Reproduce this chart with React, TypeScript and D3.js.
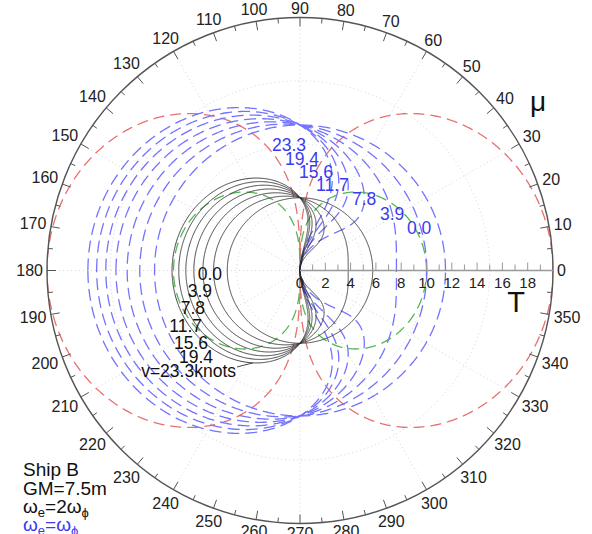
import React from 'react';
import * as d3 from 'd3';

// Physical constants
const G = 9.81; // m/s^2
const KNOT = 0.514444; // m/s per knot

// Ship B, GM = 7.5 m: natural roll period [s]
const rollPeriod = 11.5;

// Ship speeds [knots] and the printed labels for each curve
const shipSpeeds = [0, 3.9, 7.8, 11.7, 15.6, 19.4, 23.3];
const speedLabels = ['0.0', '3.9', '7.8', '11.7', '15.6', '19.4', '23.3'];

// Reference wave-length curves: wave period at mu = 0 [s]
const lengthCurvePeriods = [10, 20];

// Axis ticks
const headingMajor = d3.range(0, 360, 10);
const headingMinor = d3.range(0, 360, 5);
const periodMinor = d3.range(1, 20, 1);
const periodLabels = d3.range(0, 20, 2);
const gridPeriods = [5, 10, 15];
const gridAngles = d3.range(0, 360, 30);

// Label layout (pixels)
const blackLabelPos = [
  [222, 273], [212, 290], [205, 307], [202, 325], [208, 342], [213, 356], [236, 370],
];
const blueLabelPos = [
  [407, 227], [380, 213], [352, 198], [316, 184], [299, 171], [285, 158], [272, 144],
];

const W = 592;
const H = 534;
const CX = 300;
const CY = 270.5;
const R = 253;

const rScale = d3.scaleLinear().domain([0, 20]).range([0, R]);
const rad = (deg: number) => (deg * Math.PI) / 180;

type Pt = [number, number]; // [mu (rad), T (s)]

// Wave periods T satisfying  omega - omega^2 V cos(mu) / g = omega_e
// written with s = sqrt(1 - k cos mu), k = 4 omega_e V / g:  T = (Te/2)(1 + s).
// Below k = 1 only the long-period root is traced; above it the curve folds
// back to the origin through the short-period root.
function resonanceLoop(Te: number, vKn: number): Pt[] {
  const we = (2 * Math.PI) / Te;
  const k = (4 * we * vKn * KNOT) / G;
  const half = Te / 2;
  if (k < 1) {
    return d3.range(0, 360.01, 0.5).map((d) => {
      const m = rad(d);
      return [m, half * (1 + Math.sqrt(1 - k * Math.cos(m)))] as Pt;
    });
  }
  const upper: Pt[] = [];
  for (let d = 180; d > 90; d -= 0.5) {
    const m = rad(d);
    upper.push([m, half * (1 + Math.sqrt(1 - k * Math.cos(m)))]);
  }
  const n = 600;
  for (let i = 0; i <= n; i++) {
    const s = 1 - (2 * i) / n;
    const c = Math.min(1, (1 - s * s) / k);
    upper.push([Math.acos(c), half * (1 + s)]);
  }
  const lower: Pt[] = upper
    .slice()
    .reverse()
    .map(([m, t]) => [-m, t] as Pt);
  return upper.concat(lower);
}

function resonancePeriodAt(Te: number, vKn: number, muDeg: number): number {
  const we = (2 * Math.PI) / Te;
  const k = (4 * we * vKn * KNOT) / G;
  return (Te / 2) * (1 + Math.sqrt(1 - k * Math.cos(rad(muDeg))));
}

// Wave period whose length projected on the ship axis is fixed: T = T0 sqrt|cos mu|
function lengthCurve(T0: number): Pt[] {
  return d3.range(0, 360.01, 0.5).map((d) => {
    const m = rad(d);
    return [m, T0 * Math.sqrt(Math.abs(Math.cos(m)))] as Pt;
  });
}

const radial = d3
  .lineRadial<Pt>()
  .angle((d) => Math.PI / 2 - d[0])
  .radius((d) => rScale(d[1]));

const px = (muDeg: number, r: number) => CX + r * Math.cos(rad(muDeg));
const py = (muDeg: number, r: number) => CY - r * Math.sin(rad(muDeg));

const FONT = "'Liberation Sans', Arial, Helvetica, sans-serif";
const BLUE_LINE = '#7373ff';
const BLUE_TEXT = '#3a3af0';
const RED_LINE = '#e87070';
const GREEN_LINE = '#55b855';

export default function App() {
  const blackT = rollPeriod / 2; // omega_e = 2 omega_phi
  const blueT = rollPeriod; // omega_e = omega_phi

  const leaderMu = 243;
  const leaderT = resonancePeriodAt(blackT, shipSpeeds[6], leaderMu);

  const tickFs = 16;
  return (
    <svg
      width={W}
      height={H}
      style={{ position: 'absolute', left: 0, top: 0, background: '#fff' }}
      fontFamily={FONT}
    >
      <defs>
        <clipPath id="plotClip">
          <circle cx={CX} cy={CY} r={R} />
        </clipPath>
      </defs>

      {/* dotted grid */}
      <g stroke="#c8c8c8" strokeWidth={0.8} strokeDasharray="1,3" fill="none">
        {gridPeriods.map((t) => (
          <circle key={'gc' + t} cx={CX} cy={CY} r={rScale(t)} />
        ))}
        {gridAngles.map((a) => (
          <line key={'ga' + a} x1={CX} y1={CY} x2={px(a, R)} y2={py(a, R)} />
        ))}
      </g>

      <g clipPath="url(#plotClip)">
        <g transform={`translate(${CX},${CY})`} fill="none">
          {lengthCurvePeriods.map((t0, i) => (
            <path
              key={'lc' + t0}
              d={radial(lengthCurve(t0)) || ''}
              stroke={i === 0 ? GREEN_LINE : RED_LINE}
              strokeWidth={1.3}
              strokeDasharray="11,6"
            />
          ))}
          {shipSpeeds.map((v) => (
            <path
              key={'bl' + v}
              d={radial(resonanceLoop(blueT, v)) || ''}
              stroke={BLUE_LINE}
              strokeWidth={1.3}
              strokeDasharray="12,6"
            />
          ))}
          {shipSpeeds.map((v) => (
            <path key={'bk' + v} d={radial(resonanceLoop(blackT, v)) || ''} stroke="#333" strokeWidth={0.9} />
          ))}
        </g>
      </g>

      {/* outer heading circle */}
      <circle cx={CX} cy={CY} r={R} fill="none" stroke="#555" strokeWidth={1.4} />
      <g stroke="#555" strokeWidth={1}>
        {headingMinor.map((a) => {
          const len = a % 10 === 0 ? 9 : 5;
          return (
            <line key={'ht' + a} x1={px(a, R)} y1={py(a, R)} x2={px(a, R - len)} y2={py(a, R - len)} />
          );
        })}
      </g>
      <g fontSize={tickFs} fill="#222" textAnchor="middle">
        {headingMajor.map((a) => {
          const label = String(a);
          const w = label.length * 0.556 * tickFs;
          const h = 0.72 * tickFs;
          const ext = Math.abs(Math.cos(rad(a))) * (w / 2) + Math.abs(Math.sin(rad(a))) * (h / 2);
          const rr = R + 4 + ext;
          return (
            <text key={'hl' + a} x={px(a, rr)} y={py(a, rr) + h / 2}>
              {label}
            </text>
          );
        })}
      </g>

      {/* radial period axis */}
      <line x1={CX} y1={CY} x2={CX + R} y2={CY} stroke="#999" strokeWidth={1.5} />
      <g stroke="#999" strokeWidth={1}>
        {periodMinor.map((t) => (
          <line key={'pt' + t} x1={CX + rScale(t)} y1={CY} x2={CX + rScale(t)} y2={CY - (t % 2 === 0 ? 8 : 6)} />
        ))}
      </g>
      <g fontSize={15} fill="#222" textAnchor="middle">
        {periodLabels.map((t) => (
          <text key={'pl' + t} x={CX + rScale(t)} y={CY + 17}>
            {t}
          </text>
        ))}
      </g>
      <text x={516} y={312} fontSize={29} textAnchor="middle" fill="#111">
        T
      </text>
      <text x={538} y={111} fontSize={28} textAnchor="middle" fill="#111">
        μ
      </text>

      {/* speed labels */}
      <g fontSize={17.5} fill="#111" textAnchor="end">
        {speedLabels.map((s, i) => (
          <text key={'kl' + i} x={blackLabelPos[i][0]} y={blackLabelPos[i][1] + 6.5}>
            {i === speedLabels.length - 1 ? `v=${s}knots` : s}
          </text>
        ))}
      </g>
      <line
        x1={237}
        y1={367}
        x2={px(leaderMu, rScale(leaderT))}
        y2={py(leaderMu, rScale(leaderT))}
        stroke="#333"
        strokeWidth={0.9}
      />
      <g fontSize={17.5} fill={BLUE_TEXT} textAnchor="start">
        {speedLabels.map((s, i) => (
          <text key={'ul' + i} x={blueLabelPos[i][0]} y={blueLabelPos[i][1] + 6.5}>
            {s}
          </text>
        ))}
      </g>

      {/* ship description */}
      <g fontSize={19} fill="#111">
        <text x={23} y={476}>Ship B</text>
        <text x={23} y={495}>GM=7.5m</text>
        <text x={23} y={513}>
          ω<tspan fontSize={13} dy={4}>e</tspan>
          <tspan dy={-4}>=2ω</tspan>
          <tspan fontSize={13} dy={4}>ϕ</tspan>
        </text>
        <text x={23} y={531} fill={BLUE_TEXT}>
          ω<tspan fontSize={13} dy={4}>e</tspan>
          <tspan dy={-4}>=ω</tspan>
          <tspan fontSize={13} dy={4}>ϕ</tspan>
        </text>
      </g>
    </svg>
  );
}
